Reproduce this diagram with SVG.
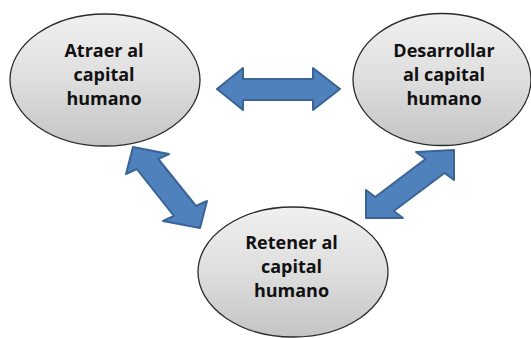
<svg xmlns="http://www.w3.org/2000/svg" width="531" height="338" viewBox="0 0 531 338">
<defs>
<linearGradient id="g" x1="0" y1="0" x2="0" y2="1">
<stop offset="0" stop-color="#f0f0f0"/>
<stop offset="0.5" stop-color="#dedede"/>
<stop offset="1" stop-color="#c4c4c4"/>
</linearGradient>
</defs>
<style>
.node ellipse{fill:url(#g);stroke:#2a2a2a;stroke-width:1.3}
.node text{font-family:"Open Sans","Liberation Sans",sans-serif;font-weight:bold;font-size:18px;fill:#111;text-anchor:middle}
.arrow{fill:#4f81bd;stroke:#3a6496;stroke-width:2;stroke-linejoin:round}
</style>
<rect width="531" height="338" fill="#ffffff"/>
<g id="connectors">
<polygon class="arrow" points="217,89 243,68 243,79 313,79 313,68 340,89 313,110 313,100 243,100 243,110"/>
<polygon class="arrow" points="133,147 169,154 158.25,159 196,206 207,201 200,228 163,221 174,216 136.75,169 126,174"/>
<polygon class="arrow" points="454,150 454,180 444.5,173 393.75,211 403,218 366,218 366,190 375.25,197 425.5,159 416,152"/>
</g>
<g id="atraer" class="node">
<ellipse cx="105" cy="80" rx="95" ry="66"/>
<text x="104" y="56.5">Atraer al</text>
<text x="104" y="81">capital</text>
<text x="104" y="105">humano</text>
</g>
<g id="desarrollar" class="node">
<ellipse cx="442" cy="79.5" rx="89" ry="66"/>
<text x="444" y="56.5">Desarrollar</text>
<text x="444" y="81">al capital</text>
<text x="444" y="105">humano</text>
</g>
<g id="retener" class="node">
<ellipse cx="293" cy="272" rx="95" ry="65"/>
<text x="291.5" y="249">Retener al</text>
<text x="291.5" y="273">capital</text>
<text x="291.5" y="297">humano</text>
</g>
</svg>
